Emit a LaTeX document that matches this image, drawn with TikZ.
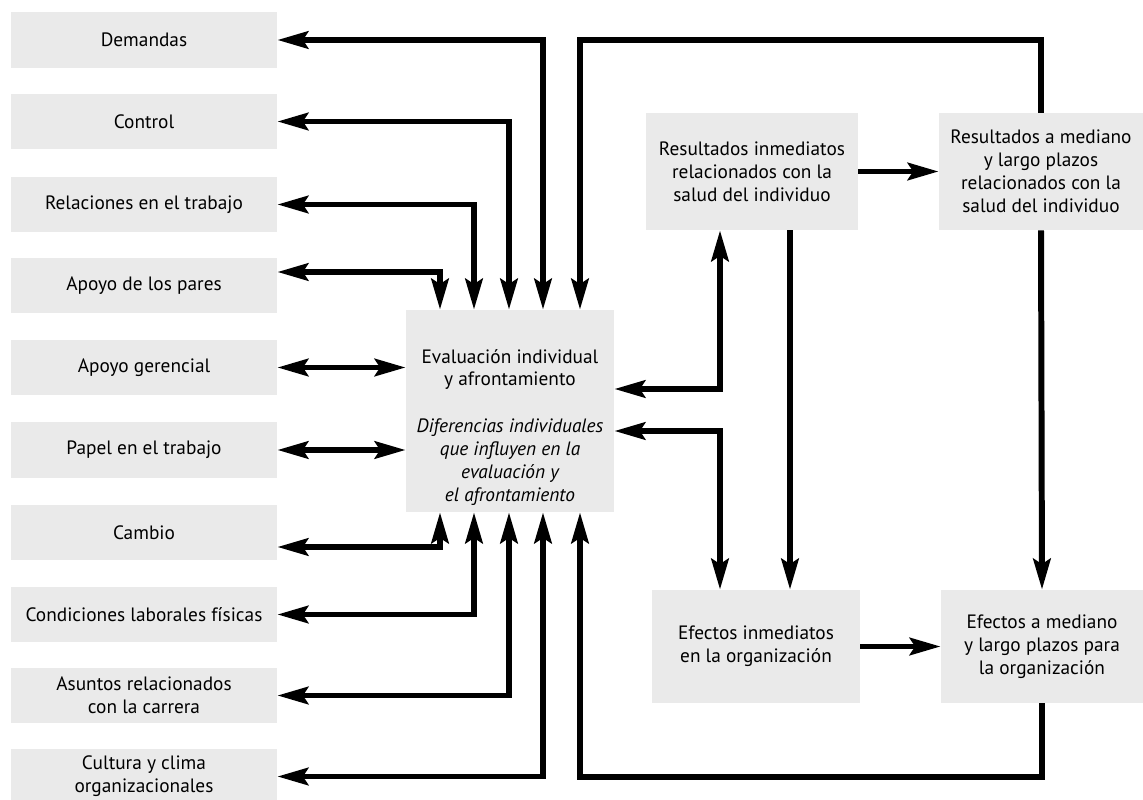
\documentclass[tikz,border=0pt]{standalone}
\usepackage{fontspec}
\setmainfont{PT Sans}
\usetikzlibrary{arrows.meta,positioning,calc}
\definecolor{boxgray}{HTML}{EAEAEA}

\tikzset{
  every node/.style={font=\fontsize{11}{13}\selectfont},
  factor/.style={fill=boxgray, minimum width=5.32cm, minimum height=1.12cm, align=center, inner sep=0pt},
  result/.style={fill=boxgray, align=center, inner sep=0pt},
  conn/.style={line width=3.4pt, -{Stealth[length=17.5pt, width=9.8pt, inset=3pt]}},
  bconn/.style={line width=3.4pt, {Stealth[length=17.5pt, width=9.8pt, inset=3pt]}-{Stealth[length=17.5pt, width=9.8pt, inset=3pt]}},
}

\begin{document}
\begin{tikzpicture}[x=0.02cm, y=-0.02cm]
  \useasboundingbox (0,0) rectangle (1143,800);

  % Factors on the left
  \node[factor] (dem) at (144,40) {Demandas};
  \node[factor] (ctrl) at (144,121.5) {Control};
  \node[factor] (rel) at (144,204.5) {Relaciones en el trabajo};
  \node[factor] (pares) at (144,285.5) {Apoyo de los pares};
  \node[factor] (ger) at (144,367.5) {Apoyo gerencial};
  \node[factor] (papel) at (144,450) {Papel en el trabajo};
  \node[factor] (camb) at (144,532.5) {Cambio};
  \node[factor] (cond) at (144,614.5) {Condiciones laborales físicas};
  \node[factor] (asun) at (144,695.5) {Asuntos relacionados\\con la carrera};
  \node[factor] (cult) at (144,776.5) {Cultura y clima\\organizacionales};

  % Central appraisal box
  \node[fill=boxgray, minimum width=4.16cm, minimum height=4.04cm, inner sep=0pt] (eval) at (510,411) {};
  \node[align=center] (evaltxt) at (510,369.5) {Evaluación individual\\y afrontamiento};
  \node[align=center, font=\fontsize{11}{13}\selectfont\itshape] (diftxt) at (510,462)
    {Diferencias individuales\\que influyen en la\\evaluación y\\el afrontamiento};

  % Outcomes on the right
  \node[result, minimum width=4.24cm, minimum height=2.34cm] (rin) at (752,171.5)
    {Resultados inmediatos\\relacionados con la\\salud del individuo};
  \node[result, minimum width=4.08cm, minimum height=2.34cm] (rml) at (1041,171.5)
    {Resultados a mediano\\y largo plazos\\relacionados con la\\salud del individuo};
  \node[result, minimum width=4.16cm, minimum height=2.26cm] (ein) at (756,646.5)
    {Efectos inmediatos\\en la organización};
  \node[result, minimum width=4.04cm, minimum height=2.26cm] (eml) at (1042,646.5)
    {Efectos a mediano\\y largo plazos para\\la organización};

  % Line positions
  \coordinate (v1) at (440,0);
  \coordinate (v2) at (474,0);
  \coordinate (v3) at (509,0);
  \coordinate (v4) at (543,0);
  \coordinate (v5) at (580,0);
  \coordinate (v6) at (720,0);
  \coordinate (v7) at (790,0);
  \coordinate (ytop) at (0,40);
  \coordinate (ybot) at (0,777);
  \coordinate (ypares) at (0,272);
  \coordinate (ycamb) at (0,547);
  \coordinate (yin1) at (0,389);
  \coordinate (yin2) at (0,431);

  % Factors <-> appraisal
  \draw[bconn] (eval.north -| v4) |- (dem.east);
  \draw[bconn] (eval.north -| v3) |- (ctrl.east);
  \draw[bconn] (eval.north -| v2) |- (rel.east);
  \draw[bconn] (eval.north -| v1) |- (pares.east |- ypares);
  \draw[bconn] (ger.east) -- (eval.west |- ger.east);
  \draw[bconn] (papel.east) -- (eval.west |- papel.east);
  \draw[bconn] (eval.south -| v1) |- (camb.east |- ycamb);
  \draw[bconn] (eval.south -| v2) |- (cond.east);
  \draw[bconn] (eval.south -| v3) |- (asun.east);
  \draw[bconn] (eval.south -| v4) |- (cult.east);

  % Feedback loops
  \draw[conn] (rml.north) -- (rml.north |- ytop) -| (eval.north -| v5);
  \draw[conn] (eml.south) -- (eml.south |- ybot) -| (eval.south -| v5);

  % Appraisal <-> outcomes
  \draw[bconn] (rin.south -| v6) |- (eval.east |- yin1);
  \draw[bconn] (eval.east |- yin2) -| (ein.north -| v6);
  \draw[conn] (rin.south -| v7) -- (ein.north -| v7);
  \draw[conn] (rml.south) -- (eml.north);
  \draw[conn] (rin) -- (rml);
  \draw[conn] (ein) -- (eml);
\end{tikzpicture}
\end{document}
